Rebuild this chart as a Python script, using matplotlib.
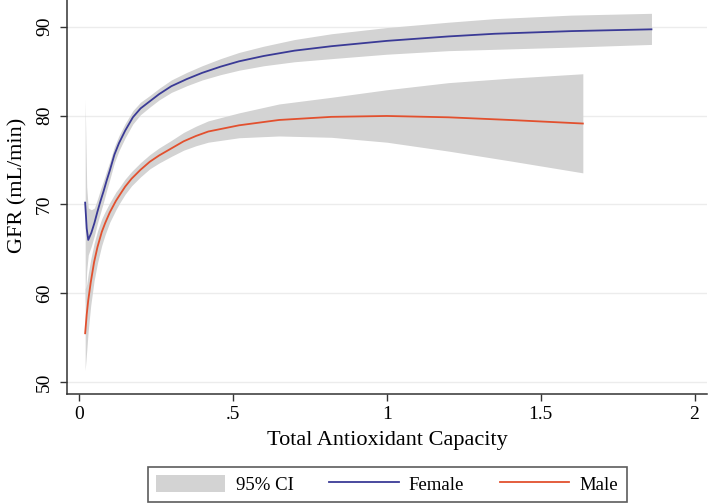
import numpy as np
import matplotlib.pyplot as plt

# values (fitted GFR and its 95% CI)
tac_f = [0.02, 0.025, 0.03, 0.04, 0.05, 0.06, 0.07, 0.08, 0.09, 0.10, 0.115, 0.13,
         0.15, 0.175, 0.20, 0.23, 0.26, 0.30, 0.35, 0.40, 0.46, 0.52, 0.60, 0.70,
         0.82, 1.0, 1.2, 1.35, 1.6, 1.86]
gfr_f = [70.2, 67.3, 66.0, 66.8, 67.9, 69.2, 70.4, 71.5, 72.7, 73.8, 75.6, 76.9,
         78.3, 79.8, 80.8, 81.6, 82.4, 83.3, 84.1, 84.8, 85.5, 86.1, 86.7, 87.3,
         87.8, 88.4, 88.9, 89.2, 89.5, 89.7]
lo_f = [58.6, 62.5, 64.3, 65.3, 66.5, 67.9, 69.1, 70.3, 71.6, 72.8, 74.7, 76.05,
        77.5, 79.05, 80.1, 80.95, 81.75, 82.6, 83.35, 84.0, 84.6, 85.1, 85.6, 86.05,
        86.4, 86.9, 87.3, 87.45, 87.7, 88.0]
hi_f = [81.8, 72.0, 69.6, 69.4, 69.6, 70.6, 71.7, 72.7, 73.8, 74.8, 76.5, 77.75,
        79.1, 80.55, 81.5, 82.25, 83.05, 84.0, 84.85, 85.6, 86.4, 87.1, 87.8, 88.55,
        89.2, 89.9, 90.5, 90.9, 91.3, 91.5]

tac_m = [0.02, 0.025, 0.03, 0.038, 0.049, 0.06, 0.074, 0.085, 0.10, 0.12, 0.133,
         0.15, 0.171, 0.20, 0.23, 0.26, 0.30, 0.34, 0.38, 0.42, 0.52, 0.65, 0.82,
         1.0, 1.2, 1.4, 1.637]
gfr_m = [55.5, 57.6, 59.2, 61.2, 63.5, 65.2, 66.9, 67.9, 69.1, 70.4, 71.1,
         72.0, 72.9, 73.9, 74.8, 75.5, 76.3, 77.1, 77.7, 78.2, 78.9, 79.5, 79.85,
         79.95, 79.8, 79.5, 79.1]
lo_m = [51.3, 53.5, 55.8, 58.6, 61.4, 63.4, 65.4, 66.6, 68.0, 69.4, 70.2,
        71.15, 72.1, 73.1, 74.0, 74.65, 75.4, 76.1, 76.6, 77.0, 77.5, 77.7, 77.55,
        77.0, 76.0, 74.9, 73.55]
hi_m = [60.5, 61.0, 62.2, 63.8, 65.6, 67.0, 68.4, 69.2, 70.2, 71.4, 72.0,
        72.85, 73.7, 74.7, 75.6, 76.35, 77.2, 78.1, 78.8, 79.4, 80.3, 81.3, 82.05,
        82.9, 83.7, 84.2, 84.7]

xticks = [0, 0.5, 1, 1.5, 2]
xticklabels = ["0", ".5", "1", "1.5", "2"]
yticks = [50, 60, 70, 80, 90]

plt.rcParams['font.family'] = ['Liberation Serif', 'DejaVu Serif']

fig = plt.figure(figsize=(7.09, 5.04), dpi=100)
ax = fig.add_axes([0.0945, 0.218, 0.9025, 0.782])

band = "#d3d3d3"
ci = ax.fill_between(tac_f, lo_f, hi_f, color=band, lw=0, label="95% CI")
ax.fill_between(tac_m, lo_m, hi_m, color=band, lw=0)
lf, = ax.plot(tac_f, gfr_f, color="#3a3a96", lw=1.3, label="Female")
lm, = ax.plot(tac_m, gfr_m, color="#e2502e", lw=1.3, label="Male")

ax.set_xlim(-0.039, 2.04)
ax.set_ylim(48.65, 93.0)
ax.set_xticks(xticks)
ax.set_xticklabels(xticklabels)
ax.set_yticks(yticks)
ax.set_yticklabels([str(v) for v in yticks], rotation=90, va="center")
ax.tick_params(labelsize=14, length=5, width=1, color="#333333")
ax.tick_params(axis="y", pad=5)
ax.grid(axis="y", color="#ececec", lw=1)
ax.set_axisbelow(True)
for s in ["top", "right"]:
    ax.spines[s].set_visible(False)
for s in ["left", "bottom"]:
    ax.spines[s].set_color("#333333")
    ax.spines[s].set_linewidth(1.1)

ax.set_xlabel("Total Antioxidant Capacity", fontsize=16, labelpad=6)
ax.set_ylabel("GFR (mL/min)", fontsize=16)
ax.yaxis.set_label_coords(-0.062, 0.53)

leg = fig.legend(handles=[ci, lf, lm], loc="center", bbox_to_anchor=(0.546, 0.039),
                 ncol=3, fontsize=13.5, frameon=True, fancybox=False,
                 handlelength=3.7, handleheight=1.0, handletextpad=0.55,
                 columnspacing=1.9, borderpad=0.45, borderaxespad=0)
leg.get_frame().set_edgecolor("#333333")
leg.get_frame().set_linewidth(1.2)

fig.savefig("out.png", dpi=100)
